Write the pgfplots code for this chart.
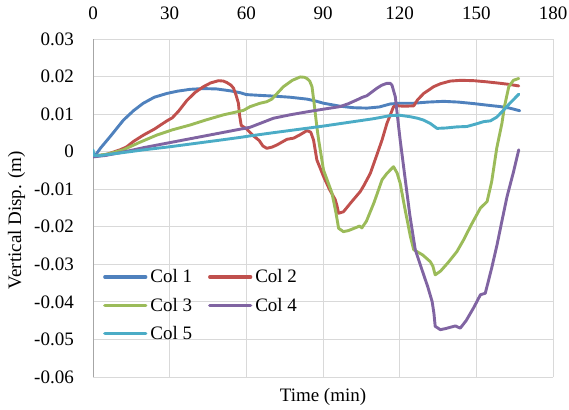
\documentclass[border=0pt]{standalone}
\usepackage{pgfplots}
\pgfplotsset{compat=1.18}
\usepackage{fontspec}
\setmainfont{Liberation Serif}
\definecolor{c1}{HTML}{4F81BD}
\definecolor{c2}{HTML}{C0504D}
\definecolor{c3}{HTML}{9BBB59}
\definecolor{c4}{HTML}{8064A2}
\definecolor{c5}{HTML}{4BACC6}
\definecolor{gridgray}{HTML}{D9D9D9}
\definecolor{axisgray}{HTML}{A6A6A6}
\begin{document}
\begin{tikzpicture}[font=\fontsize{19}{22}\selectfont]
\path[use as bounding box] (-93pt,-32pt) rectangle (476pt,377pt);
\begin{axis}[
  at={(0pt,0pt)}, anchor=south west,
  scale only axis, width=460pt, height=338pt,
  xmin=0, xmax=180, ymin=-0.06, ymax=0.03,
  xtick={0,30,60,90,120,150,180},
  xticklabels={0,30,60,90,120,150,180},
  ytick={-0.06,-0.05,-0.04,-0.03,-0.02,-0.01,0,0.01,0.02,0.03},
  yticklabels={-0.06,-0.05,-0.04,-0.03,-0.02,-0.01,0,0.01,0.02,0.03},
  scaled y ticks=false, scaled x ticks=false,
  xticklabel pos=upper,
  major tick length=0pt,
  axis line style={draw=none},
  grid=major, major grid style={draw=gridgray, line width=0.8pt},
  xticklabel style={anchor=south, inner sep=0pt, yshift=19pt},
  yticklabel style={anchor=east, inner sep=0pt, xshift=-19pt},
  xlabel={Time (min)}, ylabel={Vertical Disp. (m)},
  xlabel style={at={(axis description cs:0.5,-0.073)}, anchor=base, inner sep=0pt},
  ylabel style={at={(axis description cs:-0.166,0.464)}, anchor=center, inner sep=0pt},
  legend columns=2,
  legend image code/.code={\draw[#1, line width=3.2pt] (0pt,0pt) -- (41pt,0pt);},
  legend style={draw=none, fill=none, inner sep=0pt,
    at={(axis description cs:0.0217,0.318)}, anchor=north west,
    nodes={inner sep=0pt, anchor=west},
    row sep=13.5pt, column sep=3pt,
    /tikz/every even column/.append style={column sep=16pt}},
  every axis plot/.append style={line width=2.9pt, line join=round, line cap=round},
]
\draw[axisgray, line width=0.9pt] (rel axis cs:0,0) -- (rel axis cs:0,1);
\addplot[c1] coordinates {(0,-0.0012) (1,-0.0009) (3,0.001) (6.7,0.004) (11.9,0.0084) (16,0.011) (19.7,0.0129) (24,0.0145) (28.9,0.0155) (33,0.0161) (38,0.0166) (43,0.0168) (48.4,0.0167) (53.7,0.0162) (57.6,0.0157) (60,0.0152) (65,0.0150) (70.6,0.0148) (77,0.0145) (83.7,0.0140) (87,0.0135) (90.2,0.0129) (96.7,0.0121) (102,0.0117) (107.2,0.0116) (112,0.0119) (116.3,0.0127) (120,0.0129) (125.5,0.0129) (131,0.0132) (137.2,0.0134) (143,0.0132) (149,0.0128) (154,0.0124) (159.4,0.0120) (163,0.0116) (167,0.0109)};
\addlegendentry{Col 1}
\addplot[c2] coordinates {(0,-0.0012) (5,-0.0008) (10.6,0.0005) (13,0.0012) (16,0.0028) (19.7,0.0044) (24,0.0060) (28.9,0.0082) (31,0.0090) (33.5,0.0108) (36.7,0.0136) (40,0.0158) (43.2,0.0173) (46,0.0183) (49.1,0.0189) (51,0.0188) (52.4,0.0184) (54,0.0177) (55,0.0169) (56,0.015) (56.9,0.0129) (57.4,0.0095) (58,0.0070) (60.2,0.0060) (62.8,0.0042) (65,0.0030) (66.5,0.0015) (68,0.0009) (70,0.0012) (72,0.0018) (75.9,0.0033) (78.5,0.0036) (81,0.0045) (83.7,0.0056) (85.2,0.0052) (86.3,0.0031) (87.6,-0.0022) (90.2,-0.0066) (92.5,-0.0100) (94.8,-0.0128) (95.5,-0.0145) (96.1,-0.0164) (98,-0.0160) (101,-0.0135) (104.6,-0.0106) (106,-0.0090) (108.5,-0.0058) (111,-0.0010) (113.1,0.0031) (115,0.0075) (117.6,0.0120) (119,0.0122) (122,0.0121) (125.5,0.0122) (127,0.0138) (129.4,0.0155) (133.3,0.0173) (136,0.0181) (139.8,0.0188) (144,0.0190) (149,0.0189) (154,0.0186) (159.4,0.0182) (163,0.0179) (166.6,0.0175)};
\addlegendentry{Col 2}
\addplot[c3] coordinates {(0,-0.0012) (6,-0.0006) (11.9,0.0005) (18,0.0024) (24.9,0.0044) (31,0.0058) (38,0.0071) (44,0.0084) (51,0.0098) (55,0.0104) (58.9,0.0110) (61.5,0.0120) (65.4,0.0129) (68,0.0133) (70,0.0140) (74.5,0.0173) (78,0.0190) (81.1,0.0199) (82.7,0.0198) (83.7,0.0195) (84.8,0.0188) (85.7,0.0173) (86.5,0.0130) (87.6,0.0066) (88.3,0.0031) (90.2,-0.0049) (93.5,-0.0110) (95,-0.0160) (96.1,-0.0204) (98,-0.0213) (100,-0.0210) (103.3,-0.0201) (104.3,-0.0198) (105.2,-0.0203) (107,-0.0185) (110,-0.0135) (113.1,-0.0075) (115,-0.0058) (117.6,-0.0040) (119,-0.0057) (120.2,-0.0084) (122,-0.0150) (124.2,-0.0226) (125.5,-0.0261) (129,-0.0275) (132,-0.0293) (133,-0.0305) (133.9,-0.0328) (136,-0.0318) (139,-0.0295) (142.4,-0.0266) (145,-0.0235) (148,-0.0195) (151.6,-0.0150) (154.2,-0.0133) (156,-0.0080) (158,0.0010) (160,0.0075) (161,0.0120) (162.7,0.0173) (164.5,0.0190) (166.6,0.0195)};
\addlegendentry{Col 3}
\addplot[c4] coordinates {(0,-0.0014) (5,-0.0010) (11.9,-0.0001) (20,0.0011) (30,0.0024) (40,0.0037) (50,0.0050) (61.5,0.0065) (70.6,0.0089) (77,0.0098) (83.7,0.0106) (90,0.0113) (96.7,0.0120) (100,0.0128) (103.3,0.0138) (105.5,0.0145) (107.2,0.0149) (111.1,0.0169) (113,0.0177) (115,0.0182) (116.3,0.0182) (117,0.0177) (118.3,0.0146) (119.6,0.0066) (120.2,0.0031) (122.2,-0.0075) (124,-0.0170) (126.1,-0.0261) (128.5,-0.0310) (131,-0.0360) (132.7,-0.0399) (133.4,-0.0430) (133.9,-0.0465) (135.9,-0.0474) (138,-0.0471) (141.8,-0.0464) (143.7,-0.0470) (146,-0.0450) (149,-0.0415) (151.6,-0.0381) (153.5,-0.0377) (156,-0.0310) (158.1,-0.0248) (160,-0.0185) (162,-0.0120) (164.5,-0.0055) (166.6,0.0005)};
\addlegendentry{Col 4}
\addplot[c5] coordinates {(0,0.0005) (0.3,-0.0010) (2,-0.0011) (10,-0.0004) (20,0.0005) (30,0.0013) (40,0.0022) (50,0.0031) (57.6,0.0038) (61.5,0.0042) (70,0.0050) (80,0.0059) (90,0.0068) (100,0.0078) (110,0.0088) (116.3,0.0096) (120,0.0097) (124.2,0.0093) (127,0.0089) (129.4,0.0084) (132,0.0075) (134.6,0.0062) (138,0.0063) (142.4,0.0066) (146.3,0.0067) (150,0.0074) (152.9,0.0080) (155.5,0.0082) (158,0.0092) (160.7,0.0111) (163,0.0128) (166.6,0.0153)};
\addlegendentry{Col 5}
\end{axis}
\end{tikzpicture}
\end{document}
